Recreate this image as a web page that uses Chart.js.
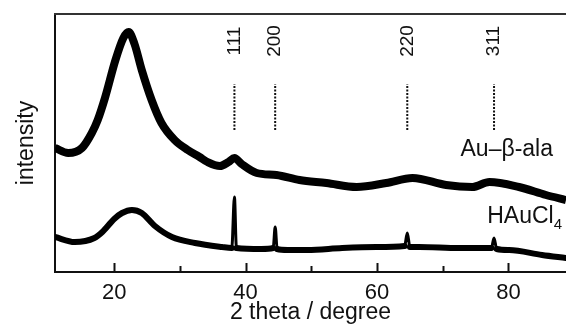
<!DOCTYPE html>
<html>
<head>
<meta charset="utf-8">
<script src="https://cdn.jsdelivr.net/npm/chart.js@4/dist/chart.umd.min.js"></script>
<style>
  html, body { margin: 0; padding: 0; background: #fff; }
  #wrap { width: 566px; height: 326px; }
</style>
</head>
<body>
<div id="wrap"><canvas id="chart1"></canvas></div>
<script>
'use strict';

// 2 theta (degree) and intensity (arbitrary units)
const au_ala_theta = [11, 13, 15.1, 16.6, 17.5, 18.6, 20.2, 21.4, 22.2, 23.1, 24.2, 25.7, 27.2, 29.2, 31.2, 33, 34.2, 36.1, 37.4, 38.3, 39.4, 41.7, 44.7, 48.2, 52.3, 56.9, 61.4, 65.4, 70.5, 74.5, 77.1, 81.6, 85.7, 88.75];
const au_ala_intensity = [124, 119, 124, 139, 152, 174, 212, 234, 240, 228, 202, 172, 149, 132, 122, 115, 110, 106, 110, 114, 108, 99, 97, 92, 89, 85, 89, 94, 87, 85, 90, 85, 77, 72];

const haucl4_theta = [11, 14, 17, 18.2, 20, 21.2, 22.7, 24.2, 26.2, 28.8, 32.3, 36.4, 37.9, 38.3, 38.6, 42.4, 44.2, 44.5, 44.8, 46.4, 49.4, 54.7, 59.9, 64.2, 64.6, 65, 66.4, 72.5, 77.4, 77.8, 78.2, 80.1, 85.1, 88.75];
const haucl4_intensity = [35, 30, 34, 40, 53, 59, 62, 59, 46, 35, 29, 25, 24, 75, 24, 23, 24, 45, 23, 22, 22, 24, 25, 26, 39, 25, 25, 24, 24, 34, 23, 22, 17, 14];

// Au reflections
const reflection_theta = [38.3, 44.5, 64.6, 77.8];
const reflection_labels = ['111', '200', '220', '311'];
const marker_range = [142, 188];

const x_ticks = [20, 40, 60, 80];
const x_minor_ticks = [30, 50, 70];

const series_labels = [
    { text: 'Au\u2013\u03b2-ala', sub: '', y: 122 },
    { text: 'HAuCl', sub: '4', y: 55 }
];

const font_family = '"Liberation Sans", Arial, sans-serif';
const ink = '#111';

const marker_sets = reflection_theta.map(t => ({
    data: marker_range.map(y => ({ x: t, y: y })),
    borderColor: ink,
    borderWidth: 2,
    borderDash: [2, 1.5],
    pointRadius: 0,
    order: 3
}));

// the sharp reflections are thin lines, the noisy background is a thick band
const spike_width = ctx => {
    const touches = [ctx.p0, ctx.p1].some(p => reflection_theta.includes(p.parsed.x));
    return touches ? 3 : 6;
};

const decorations = {
    id: 'decorations',
    afterDraw(chart) {
        const { ctx, chartArea, scales } = chart;
        const xs = scales.x, ys = scales.y;
        ctx.save();
        // top frame line
        ctx.strokeStyle = '#333';
        ctx.lineWidth = 2;
        ctx.beginPath();
        ctx.moveTo(chartArea.left - 1, chartArea.top);
        ctx.lineTo(chartArea.right, chartArea.top);
        ctx.stroke();
        // inward tick marks
        const tick = (v, len) => {
            const px = Math.round(xs.getPixelForValue(v)) + 0.5;
            ctx.beginPath();
            ctx.moveTo(px, chartArea.bottom);
            ctx.lineTo(px, chartArea.bottom - len);
            ctx.stroke();
        };
        ctx.strokeStyle = ink;
        x_ticks.forEach(v => tick(v, 9));
        x_minor_ticks.forEach(v => tick(v, 6));
        // reflection labels
        ctx.fillStyle = ink;
        ctx.font = '19px ' + font_family;
        ctx.textAlign = 'center';
        ctx.textBaseline = 'middle';
        reflection_theta.forEach((t, i) => {
            ctx.save();
            ctx.translate(xs.getPixelForValue(t), 41);
            ctx.rotate(-Math.PI / 2);
            ctx.fillText(reflection_labels[i], 0, 0);
            ctx.restore();
        });
        // series labels
        ctx.font = '23px ' + font_family;
        ctx.textBaseline = 'middle';
        ctx.textAlign = 'right';
        series_labels.forEach(s => {
            const py = ys.getPixelForValue(s.y);
            let right = 553;
            if (s.sub) {
                ctx.font = '15px ' + font_family;
                const w = ctx.measureText(s.sub).width;
                ctx.fillText(s.sub, 562, py + 8);
                right = 562 - w;
                ctx.font = '23px ' + font_family;
            }
            ctx.fillText(s.text, right, py);
        });
        ctx.restore();
    }
};

new Chart(document.querySelector('#chart1'), {
    type: 'line',
    data: {
        datasets: [
            {
                label: 'Au-beta-ala',
                data: au_ala_theta.map((t, i) => ({ x: t, y: au_ala_intensity[i] })),
                borderColor: '#000',
                borderWidth: 8,
                pointRadius: 0,
                cubicInterpolationMode: 'monotone',
                borderJoinStyle: 'round',
                order: 1
            },
            {
                label: 'HAuCl4',
                data: haucl4_theta.map((t, i) => ({ x: t, y: haucl4_intensity[i] })),
                borderColor: '#000',
                borderWidth: 6,
                pointRadius: 0,
                cubicInterpolationMode: 'monotone',
                borderJoinStyle: 'round',
                borderCapStyle: 'round',
                segment: { borderWidth: spike_width },
                order: 2
            },
            ...marker_sets
        ]
    },
    options: {
        responsive: true,
        maintainAspectRatio: false,
        animation: false,
        layout: { padding: { top: 14, right: 0, left: 0, bottom: 0 } },
        plugins: { legend: { display: false }, tooltip: { enabled: false } },
        scales: {
            x: {
                type: 'linear',
                min: 11,
                max: 88.75,
                grid: { display: false, drawTicks: false },
                border: { display: true, color: ink, width: 2 },
                ticks: {
                    stepSize: 10,
                    includeBounds: false,
                    autoSkip: false,
                    maxRotation: 0,
                    padding: 8,
                    color: ink,
                    font: { family: font_family, size: 22 },
                    callback: v => x_ticks.includes(v) ? String(v) : ''
                },
                title: {
                    display: true,
                    text: '2 theta / degree',
                    color: ink,
                    font: { family: font_family, size: 23 },
                    padding: { top: 0, bottom: 0 }
                },
                afterFit: scale => { scale.height = 54; }
            },
            y: {
                min: 0,
                max: 258,
                grid: { display: false, drawTicks: false },
                border: { display: true, color: ink, width: 2 },
                ticks: { display: false },
                title: {
                    display: true,
                    text: 'intensity',
                    color: ink,
                    font: { family: font_family, size: 23 },
                    padding: { top: 13, bottom: 0 }
                },
                afterFit: scale => { scale.width = 55; }
            }
        }
    },
    plugins: [decorations]
});
</script>
</body>
</html>
